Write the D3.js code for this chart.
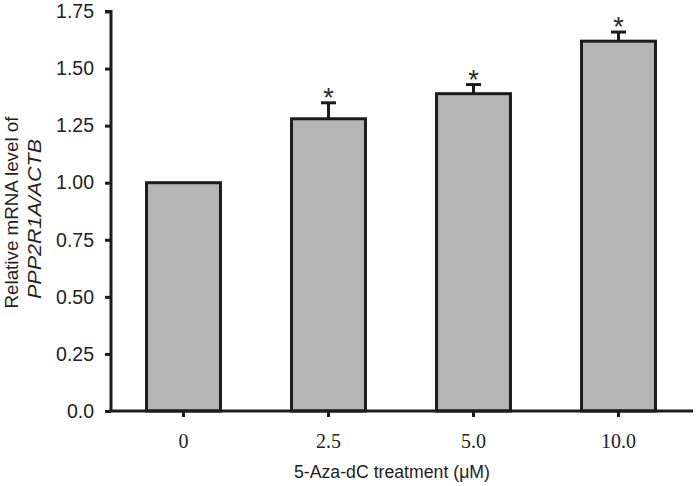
<!DOCTYPE html>
<html>
<head>
<meta charset="utf-8">
<script src="https://cdn.jsdelivr.net/npm/d3@7"></script>
<style>
  html, body { margin: 0; padding: 0; background: #fff; }
  svg { display: block; }
</style>
</head>
<body>
<svg id="chart" width="696" height="486"></svg>
<script>
const categories = ["0", "2.5", "5.0", "10.0"];
const values = [1.00, 1.28, 1.39, 1.62];
const errors = [0, 0.07, 0.04, 0.04];
const significant = [false, true, true, true];
const yTicks = [0, 0.25, 0.5, 0.75, 1.0, 1.25, 1.5, 1.75];
const yTickLabels = ["0.0", "0.25", "0.50", "0.75", "1.00", "1.25", "1.50", "1.75"];

const svg = d3.select("#chart");
const ink = "#1c1c1c";

const x = d3.scaleBand().domain(categories).range([111, 691]).paddingInner(0.49).paddingOuter(0.245);
const y = d3.scaleLinear().domain([0, 1.75]).range([411, 11.5]);

// bars
svg.append("g").selectAll("rect").data(categories).join("rect")
  .attr("x", d => x(d))
  .attr("y", (d, i) => y(values[i]))
  .attr("width", x.bandwidth())
  .attr("height", (d, i) => y(0) - y(values[i]))
  .attr("fill", "#b5b5b5")
  .attr("stroke", ink)
  .attr("stroke-width", 3);

// error bars
const eb = svg.append("g").attr("stroke", ink).attr("stroke-width", 3);
categories.forEach((c, i) => {
  if (errors[i] <= 0) return;
  const cx = x(c) + x.bandwidth() / 2;
  eb.append("line").attr("x1", cx).attr("x2", cx)
    .attr("y1", y(values[i])).attr("y2", y(values[i] + errors[i]));
  eb.append("line").attr("x1", cx - 7.5).attr("x2", cx + 7.5)
    .attr("y1", y(values[i] + errors[i])).attr("y2", y(values[i] + errors[i]));
});

// asterisks
svg.append("g").selectAll("text").data(categories.filter((c, i) => significant[i])).join("text")
  .attr("x", d => x(d) + x.bandwidth() / 2)
  .attr("y", d => { const i = categories.indexOf(d); return y(values[i] + errors[i]) + 4; })
  .attr("text-anchor", "middle")
  .attr("font-family", "Liberation Sans, Arial, sans-serif")
  .attr("font-size", 27)
  .attr("fill", "#2a2a2a")
  .text("*");

// y axis
const yAxis = svg.append("g").attr("transform", "translate(111,0)")
  .call(d3.axisLeft(y).tickValues(yTicks).tickFormat((d, i) => yTickLabels[i]).tickSize(6).tickPadding(11).tickSizeOuter(0));
yAxis.select(".domain").attr("stroke", ink).attr("stroke-width", 3)
  .attr("d", `M-6,${y(1.75)}H0V${y(0)}`);
yAxis.selectAll(".tick line").attr("stroke", ink).attr("stroke-width", 3);
yAxis.selectAll(".tick text").attr("font-family", "Liberation Sans, Arial, sans-serif")
  .attr("font-size", 19.5).attr("fill", "#222");

// x axis
const xAxis = svg.append("g").attr("transform", "translate(0,411)")
  .call(d3.axisBottom(x).tickSize(6).tickPadding(17).tickSizeOuter(0));
xAxis.select(".domain").attr("stroke", ink).attr("stroke-width", 3)
  .attr("d", `M${109.5},0H693`);
xAxis.selectAll(".tick line").attr("stroke", ink).attr("stroke-width", 3);
xAxis.selectAll(".tick text").attr("font-family", "Liberation Serif, Times New Roman, serif")
  .attr("font-size", 20).attr("fill", "#222");

// axis titles
svg.append("text").attr("x", 392).attr("y", 478).attr("text-anchor", "middle")
  .attr("font-family", "Liberation Sans, Arial, sans-serif").attr("font-size", 17.5)
  .attr("textLength", 196).attr("lengthAdjust", "spacingAndGlyphs")
  .attr("fill", "#222").text("5-Aza-dC treatment (\u03BCM)");

const yt = svg.append("g").attr("font-family", "Liberation Sans, Arial, sans-serif").attr("fill", "#222");
yt.append("text").attr("transform", "translate(18,212.5) rotate(-90)").attr("text-anchor", "middle")
  .attr("font-size", 19).attr("textLength", 192).attr("lengthAdjust", "spacingAndGlyphs")
  .text("Relative mRNA  level of");
yt.append("text").attr("transform", "translate(41,219) rotate(-90)").attr("text-anchor", "middle")
  .attr("font-size", 19).attr("font-style", "italic")
  .attr("textLength", 160).attr("lengthAdjust", "spacingAndGlyphs").text("PPP2R1A/ACTB");
</script>
</body>
</html>
